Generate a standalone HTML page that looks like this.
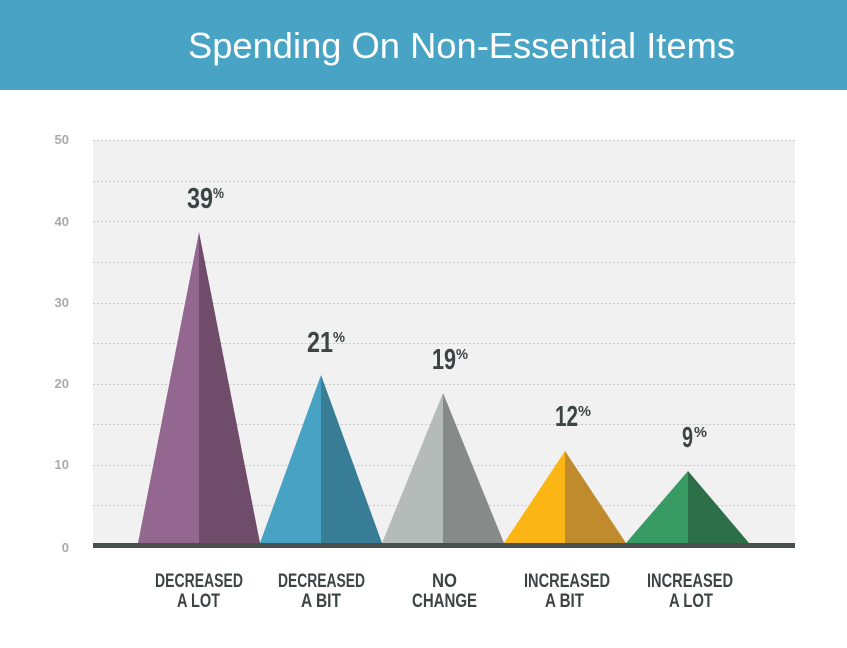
<!DOCTYPE html>
<html><head><meta charset="utf-8"><style>
html,body{margin:0;padding:0;background:#fff;}
svg{display:block;}
.t{font-family:"Liberation Sans Narrow","Liberation Sans",sans-serif;font-weight:bold;}
</style></head><body>
<svg width="847" height="648" viewBox="0 0 847 648" xmlns="http://www.w3.org/2000/svg">
<rect x="0" y="0" width="847" height="90" fill="#48a3c4"/>
<text x="188" y="58" fill="#fff" font-family="Liberation Sans, sans-serif" font-size="36" textLength="547" lengthAdjust="spacingAndGlyphs">Spending On Non-Essential Items</text>

<rect x="93" y="140" width="702" height="404" fill="#f1f1f1"/>
<g stroke="#c9c9c9" stroke-width="1" stroke-dasharray="2,2">
<line x1="93" y1="140.5" x2="795" y2="140.5"/>
<line x1="93" y1="181.5" x2="795" y2="181.5"/>
<line x1="93" y1="221.5" x2="795" y2="221.5"/>
<line x1="93" y1="262.5" x2="795" y2="262.5"/>
<line x1="93" y1="303.5" x2="795" y2="303.5"/>
<line x1="93" y1="343.5" x2="795" y2="343.5"/>
<line x1="93" y1="384.5" x2="795" y2="384.5"/>
<line x1="93" y1="424.5" x2="795" y2="424.5"/>
<line x1="93" y1="465.5" x2="795" y2="465.5"/>
<line x1="93" y1="505.5" x2="795" y2="505.5"/>
</g>

<g class="t" fill="#aaaaaa" font-size="13" text-anchor="end">
<text x="69" y="144">50</text>
<text x="69" y="226">40</text>
<text x="69" y="307">30</text>
<text x="69" y="388">20</text>
<text x="69" y="469">10</text>
<text x="69" y="552">0</text>
</g>

<!-- triangles -->
<polygon points="138,543 199,232 199,543" fill="#936790"/>
<polygon points="199,232 260,543 199,543" fill="#6f4c6a"/>
<polygon points="260,543 321,375 321,543" fill="#47a2c4"/>
<polygon points="321,375 382,543 321,543" fill="#387d96"/>
<polygon points="382,543 443,393 443,543" fill="#b4bbb9"/>
<polygon points="443,393 504,543 443,543" fill="#868a89"/>
<polygon points="504,543 565,451 565,543" fill="#fbb615"/>
<polygon points="565,451 626,543 565,543" fill="#c08b2c"/>
<polygon points="626,543 688,471 688,543" fill="#389b63"/>
<polygon points="688,471 749,543 688,543" fill="#2c6e48"/>

<rect x="93" y="543" width="702" height="5" fill="#4a4f4f"/>

<!-- value labels -->
<g class="t" fill="#3d4444">
<text x="187" y="208" font-size="29" textLength="26" lengthAdjust="spacingAndGlyphs">39</text>
<text x="213" y="198" font-size="15" textLength="11" lengthAdjust="spacingAndGlyphs">%</text>
<text x="307" y="352" font-size="29" textLength="26" lengthAdjust="spacingAndGlyphs">21</text>
<text x="333" y="342" font-size="15" textLength="12" lengthAdjust="spacingAndGlyphs">%</text>
<text x="432" y="369" font-size="29" textLength="24" lengthAdjust="spacingAndGlyphs">19</text>
<text x="456" y="359" font-size="15" textLength="12" lengthAdjust="spacingAndGlyphs">%</text>
<text x="555" y="426" font-size="29" textLength="23" lengthAdjust="spacingAndGlyphs">12</text>
<text x="578" y="416" font-size="15" textLength="13" lengthAdjust="spacingAndGlyphs">%</text>
<text x="682" y="447" font-size="29" textLength="11" lengthAdjust="spacingAndGlyphs">9</text>
<text x="694" y="437" font-size="15" textLength="13" lengthAdjust="spacingAndGlyphs">%</text>
</g>

<!-- category labels -->
<g class="t" fill="#3d4444" font-size="19">
<text x="155" y="587" textLength="88" lengthAdjust="spacingAndGlyphs">DECREASED</text>
<text x="177" y="607" textLength="43" lengthAdjust="spacingAndGlyphs">A LOT</text>
<text x="278" y="587" textLength="87" lengthAdjust="spacingAndGlyphs">DECREASED</text>
<text x="301" y="607" textLength="40" lengthAdjust="spacingAndGlyphs">A BIT</text>
<text x="432" y="587" textLength="25" lengthAdjust="spacingAndGlyphs">NO</text>
<text x="412" y="607" textLength="65" lengthAdjust="spacingAndGlyphs">CHANGE</text>
<text x="524" y="587" textLength="86" lengthAdjust="spacingAndGlyphs">INCREASED</text>
<text x="545" y="607" textLength="39" lengthAdjust="spacingAndGlyphs">A BIT</text>
<text x="647" y="587" textLength="86" lengthAdjust="spacingAndGlyphs">INCREASED</text>
<text x="669" y="607" textLength="44" lengthAdjust="spacingAndGlyphs">A LOT</text>
</g>
</svg>
</body></html>
